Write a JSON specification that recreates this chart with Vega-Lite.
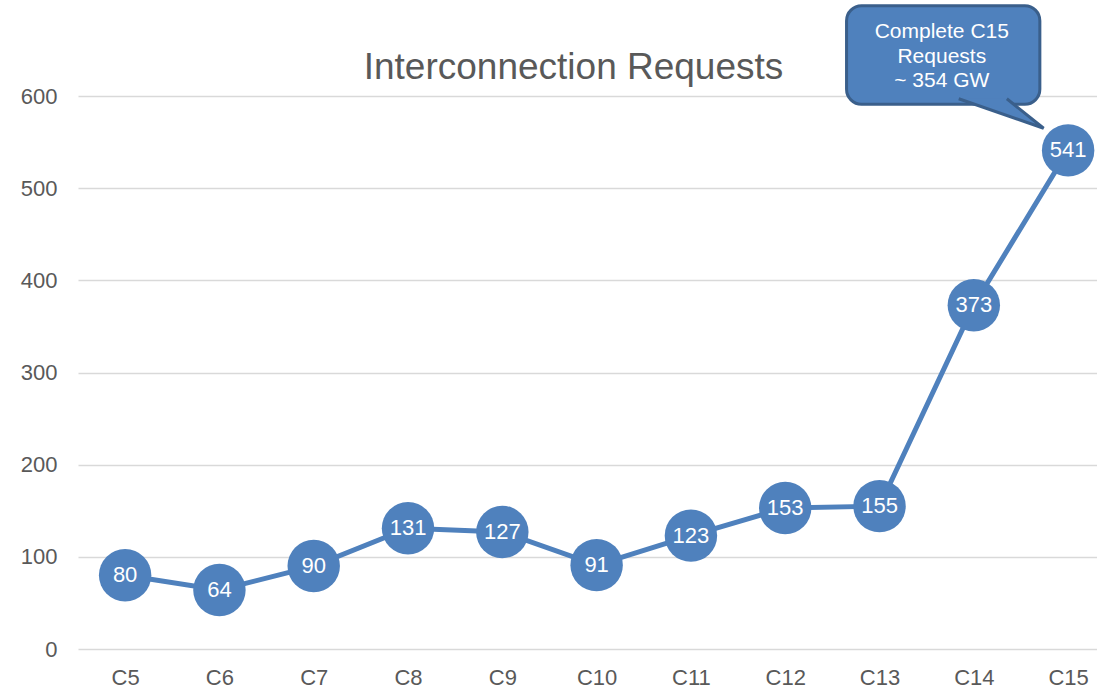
{
  "$schema": "https://vega.github.io/schema/vega-lite/v6.json",
  "width": 1019,
  "height": 553,
  "autosize": "none",
  "padding": {"left": 78, "top": 96, "right": 0, "bottom": 39},
  "background": "white",
  "config": {
    "view": {"stroke": null},
    "font": "Liberation Sans"
  },
  "title": {
    "text": "Interconnection Requests",
    "fontSize": 37,
    "fontWeight": "normal",
    "color": "#595959",
    "font": "Liberation Sans",
    "anchor": "middle",
    "dx": -14,
    "baseline": "alphabetic",
    "offset": -112
  },
  "datasets": {
    "requests": [
      {"cycle": "C5", "gw": 80},
      {"cycle": "C6", "gw": 64},
      {"cycle": "C7", "gw": 90},
      {"cycle": "C8", "gw": 131},
      {"cycle": "C9", "gw": 127},
      {"cycle": "C10", "gw": 91},
      {"cycle": "C11", "gw": 123},
      {"cycle": "C12", "gw": 153},
      {"cycle": "C13", "gw": 155},
      {"cycle": "C14", "gw": 373},
      {"cycle": "C15", "gw": 541}
    ],
    "box": [
      {"u1": 7.65, "u2": 9.70, "v1": 591, "v2": 698}
    ],
    "tail": [
      {"u": 8.84, "v": 597, "k": 1},
      {"u": 9.74, "v": 565, "k": 2},
      {"u": 9.35, "v": 597, "k": 3}
    ],
    "note": [
      {"u": 8.66, "v": 669, "lines": ["Complete C15", "Requests", "~ 354 GW"]}
    ]
  },
  "layer": [
    {
      "data": {"name": "requests"},
      "encoding": {
        "x": {
          "field": "cycle",
          "type": "ordinal",
          "sort": null,
          "scale": {"type": "point", "padding": 0.403, "align": 0.62},
          "axis": {
            "title": null,
            "domain": false,
            "ticks": false,
            "tickSize": 0,
            "labelPadding": 18,
            "labelFontSize": 22,
            "labelColor": "#595959",
            "labelAngle": 0,
            "grid": false
          }
        },
        "y": {
          "field": "gw",
          "type": "quantitative",
          "scale": {"domain": [0, 600], "nice": false},
          "axis": {
            "title": null,
            "values": [0, 100, 200, 300, 400, 500, 600],
            "domain": false,
            "ticks": false,
            "tickSize": 0,
            "labelPadding": 21,
            "labelFontSize": 22,
            "labelColor": "#595959",
            "grid": true,
            "gridColor": "#D9D9D9",
            "gridWidth": 1.5
          }
        }
      },
      "layer": [
        {"mark": {"type": "line", "color": "#4F81BD", "strokeWidth": 5}},
        {"mark": {"type": "point", "filled": true, "opacity": 1, "color": "#4F81BD", "size": 2750, "shape": "circle"}},
        {
          "mark": {"type": "text", "color": "white", "fontSize": 22, "font": "Liberation Sans", "baseline": "middle", "align": "center"},
          "encoding": {"text": {"field": "gw", "type": "quantitative"}}
        }
      ]
    },
    {
      "layer": [
        {
          "data": {"name": "box"},
          "mark": {"type": "rect", "fill": "#4F81BD", "stroke": "#3A5F8B", "strokeWidth": 3, "cornerRadius": 15, "clip": false},
          "encoding": {
            "x": {"field": "u1", "type": "quantitative", "scale": {"domain": [-0.5, 10.306], "nice": false, "zero": false}, "axis": null},
            "x2": {"field": "u2"},
            "y": {"field": "v1", "type": "quantitative"},
            "y2": {"field": "v2"}
          }
        },
        {
          "data": {"name": "tail"},
          "mark": {"type": "line", "fill": "#4F81BD", "stroke": "#3A5F8B", "strokeWidth": 3, "clip": false},
          "encoding": {
            "x": {"field": "u", "type": "quantitative"},
            "y": {"field": "v", "type": "quantitative"},
            "order": {"field": "k"}
          }
        },
        {
          "data": {"name": "note"},
          "mark": {"type": "text", "color": "white", "fontSize": 21, "font": "Liberation Sans", "align": "center", "baseline": "middle", "lineHeight": 24.5},
          "encoding": {
            "x": {"field": "u", "type": "quantitative"},
            "y": {"field": "v", "type": "quantitative"},
            "text": {"field": "lines"}
          }
        }
      ]
    }
  ],
  "resolve": {"scale": {"x": "independent"}}
}
